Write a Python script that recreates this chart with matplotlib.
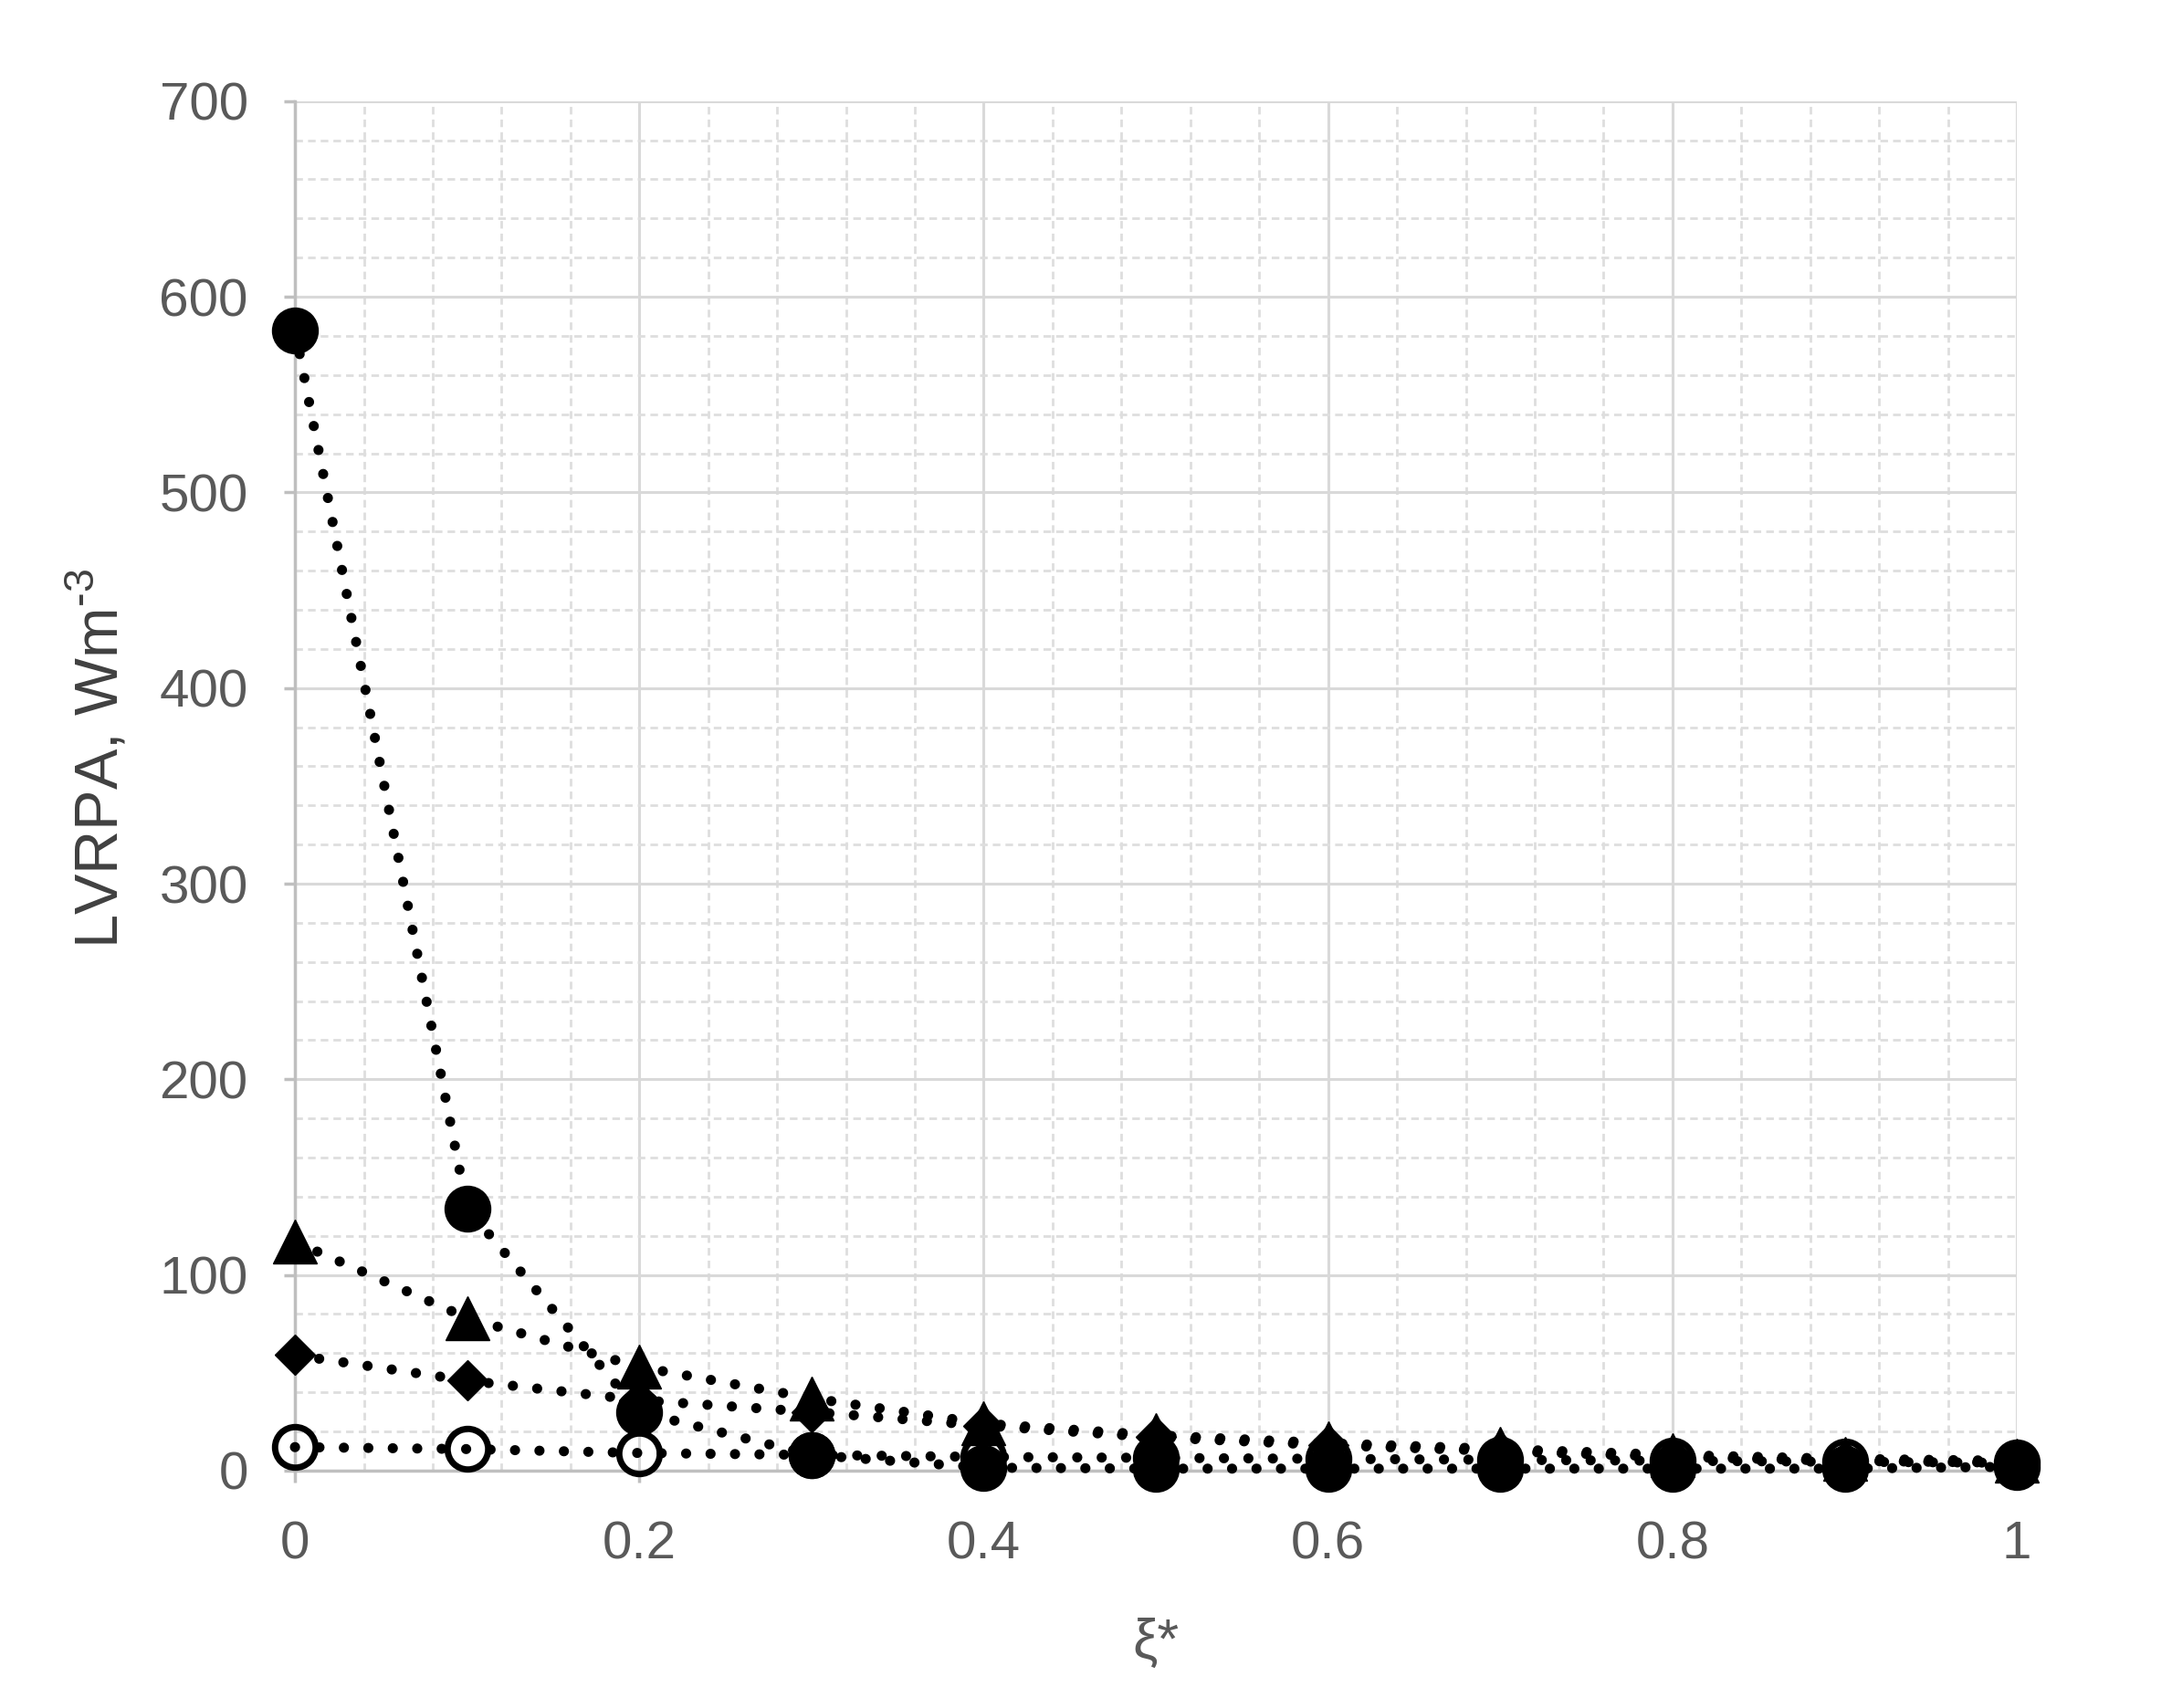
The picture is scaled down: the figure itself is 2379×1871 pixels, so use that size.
"""LVRPA vs xi* chart, Excel-like style."""
import matplotlib

matplotlib.use("Agg")
import matplotlib.pyplot as plt
from matplotlib.ticker import MultipleLocator

plt.rcParams["font.family"] = ["Liberation Sans", "DejaVu Sans"]

FS = 42
GRAY_TXT = "#595959"

xi = [0.0, 0.1, 0.2, 0.3, 0.4, 0.5, 0.6, 0.7, 0.8, 0.9, 1.0]
lvrpa_open = [12, 11, 9, 8, 7, 6.5, 6, 5.5, 5, 4.5, 4]
lvrpa_diamond = [59, 46, 36, 30, 23, 17, 13, 10, 7, 5, 4]
lvrpa_triangle = [117, 78, 53, 37, 24, 18, 14, 11, 8, 6, 5]
lvrpa_filled = [583, 134, 30, 8, 1.5, 1, 1, 1, 1, 1, 2]

fig = plt.figure(figsize=(23.79, 18.71), dpi=100)
ax = fig.add_axes([0.1358, 0.139, 0.7928, 0.8018])

dots = dict(color="black", lw=8, ls=(0, (0.01, 2.4)), dash_capstyle="round", clip_on=False)

ax.plot(xi, lvrpa_open, marker="o", ms=32, mfc="none", mec="black", mew=5, zorder=3, **dots)
ax.plot(xi, lvrpa_diamond, marker="D", ms=22, mfc="black", mec="black", zorder=4, **dots)
ax.plot(xi, lvrpa_triangle, marker="^", ms=34, mfc="black", mec="black", zorder=5, **dots)
ax.plot(xi, lvrpa_filled, marker="o", ms=36, mfc="black", mec="black", zorder=6, **dots)

ax.set_xlim(0, 1)
ax.set_ylim(0, 700)
ax.xaxis.set_major_locator(MultipleLocator(0.2))
ax.xaxis.set_minor_locator(MultipleLocator(0.04))
ax.yaxis.set_major_locator(MultipleLocator(100))
ax.yaxis.set_minor_locator(MultipleLocator(20))
ax.set_xticks([0, 0.2, 0.4, 0.6, 0.8, 1.0])
ax.set_xticklabels(["0", "0.2", "0.4", "0.6", "0.8", "1"])

ax.grid(which="major", color="#d9d9d9", lw=2.2, ls="-", zorder=0)
ax.grid(which="minor", color="#dedede", lw=2.0, ls=(0, (3, 2)), zorder=0)
ax.set_axisbelow(True)

for side in ("top", "right"):
    ax.spines[side].set_visible(False)
for side in ("left", "bottom"):
    ax.spines[side].set_color("#bfbfbf")
    ax.spines[side].set_linewidth(2.5)

ax.tick_params(which="major", direction="out", length=9, width=2.5, color="#bfbfbf",
               labelsize=FS, labelcolor=GRAY_TXT)
ax.tick_params(axis="y", which="major", pad=28)
ax.tick_params(axis="x", which="major", pad=30)
ax.tick_params(which="minor", length=0)

ax.set_ylabel("LVRPA, Wm$^{\\mathregular{\u20103}}$", fontsize=48, color="#404040")
ax.yaxis.set_label_coords(-0.095, 0.52)
ax.set_xlabel("ξ*", fontsize=44, color=GRAY_TXT, labelpad=38)

fig.savefig("out.png", dpi=100)
